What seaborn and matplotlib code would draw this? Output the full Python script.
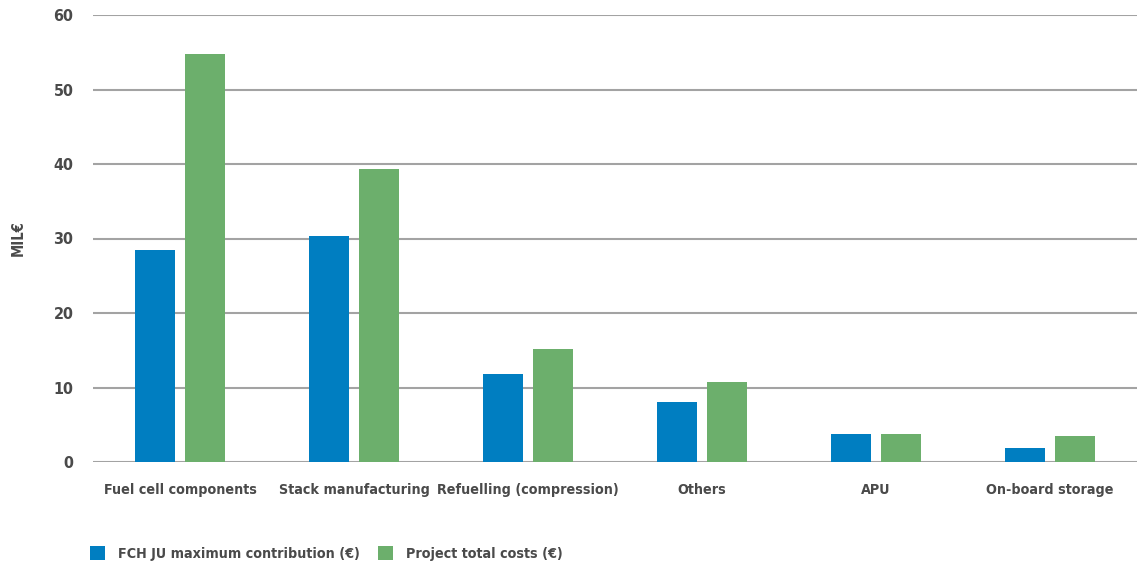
import matplotlib
matplotlib.use("Agg")
import matplotlib.pyplot as plt
import seaborn as sns
import pandas as pd

categories = ["Fuel cell components", "Stack manufacturing", "Refuelling (compression)",
              "Others", "APU", "On-board storage"]
fch_contribution = [28.5, 30.3, 11.8, 8.1, 3.8, 1.9]
project_costs = [54.8, 39.3, 15.2, 10.7, 3.8, 3.5]
series_names = ["FCH JU maximum contribution (€)", "Project total costs (€)"]
colors = ["#007ec1", "#6caf6c"]

df = pd.DataFrame({
    "category": categories * 2,
    "value": fch_contribution + project_costs,
    "series": [series_names[0]] * len(categories) + [series_names[1]] * len(categories),
})

sns.set_theme(style="white")
plt.rcParams['font.family'] = ['DejaVu Sans']
plt.rcParams['font.stretch'] = 'condensed'
text_color = "#4a4a4a"

fig = plt.figure(figsize=(11.37, 5.66), dpi=100)
ax = fig.add_axes([93/1137, (566-462)/566, 1 - 93/1137, (462-15)/566])

sns.barplot(data=df, x="category", y="value", hue="series", palette=colors,
            width=0.574, gap=0.2, ax=ax, legend=True, saturation=1, linewidth=0)

ax.set_ylim(0, 60)
ax.set_xlim(-0.5, 5.5)
ax.set_yticks(range(0, 61, 10))
ax.yaxis.grid(True, color="#a3a3a3", linewidth=1.5)
ax.set_axisbelow(True)
for s in ax.spines.values():
    s.set_visible(False)
ax.tick_params(axis="y", length=0, pad=14, labelsize=11.5, labelcolor=text_color)
ax.tick_params(axis="x", length=0, pad=15, labelsize=10.3, labelcolor=text_color)
for lbl in ax.get_xticklabels() + ax.get_yticklabels():
    lbl.set_fontweight("bold")
    lbl.set_fontstretch("condensed")
ax.set_xlabel("")
ax.set_ylabel("MIL€", fontsize=10.5, fontweight="bold", color=text_color, fontstretch="condensed")
ax.yaxis.set_label_coords((26 - 93) / 1044, 0.5)

handles, labels = ax.get_legend_handles_labels()
ax.get_legend().remove()
fig.legend(handles, labels, loc="lower left", bbox_to_anchor=(90/1137, (566-561)/566), ncol=2,
           frameon=False, borderaxespad=0, borderpad=0, handlelength=1.05, handleheight=1.05,
           handletextpad=0.9, columnspacing=1.3,
           prop={"weight": "bold", "size": 10.3, "stretch": "condensed"})
for t in fig.legends[0].get_texts():
    t.set_color(text_color)

fig.savefig("out.png", dpi=100)
